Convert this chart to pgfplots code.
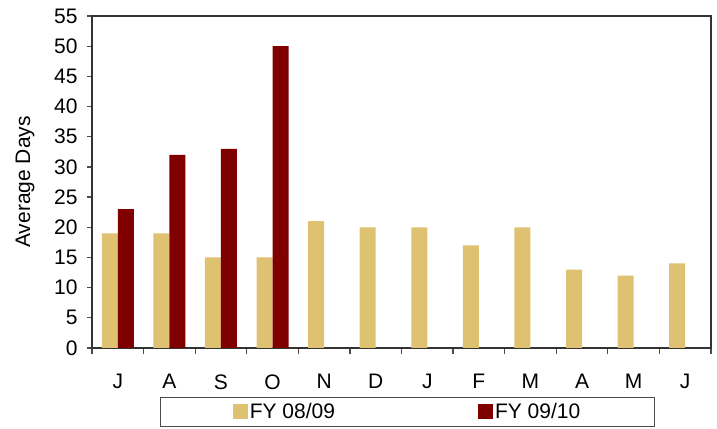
\documentclass[border=0pt]{standalone}
\usepackage{pgfplots}
\pgfplotsset{compat=1.18}
\usepackage{fontspec}
\setmainfont{Liberation Sans}
\definecolor{tanc}{RGB}{222,194,114}
\definecolor{dred}{RGB}{128,0,0}
\newcommand{\cf}{\fontsize{21bp}{25bp}\selectfont}
\begin{document}
\begin{tikzpicture}
\path[use as bounding box] (0,0) rectangle (717bp,429bp);
\begin{axis}[
  at={(92bp,81bp)}, anchor=south west,
  scale only axis, width=619bp, height=332bp,
  ybar=0pt, bar width=16bp,
  xmin=-0.5, xmax=11.5, ymin=0, ymax=55,
  ytick={0,5,...,55},
  xtick={0,...,11}, xticklabels={J,A,S,O,N,D,J,F,M,A,M,J},
  minor xtick={-0.5,0.5,...,11.5},
  major x tick style={draw=none},
  minor tick length=6bp, major tick length=5bp,
  tick align=outside, tick pos=left,
  tick style={black!70, line width=1.2pt},
  axis line style={draw=black!80, line width=1.2pt},
  /pgf/number format/assume math mode=true,
  tick label style={font=\cf},
  xticklabel style={yshift=-18bp},
  yticklabel style={xshift=-6bp},
  every axis y label/.style={at={(rel axis cs:0,0.5)}, xshift=-67bp, rotate=90, anchor=center, font=\cf},
  ylabel={Average Days},
  legend columns=2,
  legend cell align=left,
  legend style={at={(rel axis cs:0.5097,-0.1476)}, anchor=north,
    draw=black!70, line width=1pt, font=\cf,
    inner xsep=72bp, inner ysep=4bp,
    /tikz/every even column/.append style={column sep=141bp}},
  every axis plot post/.append style={legend image code/.code={\fill[##1] (0bp,-7.5bp) rectangle (15bp,7.5bp);}},
]
\addplot[fill=tanc, draw=none] coordinates {(0,19) (1,19) (2,15) (3,15) (4,21) (5,20) (6,20) (7,17) (8,20) (9,13) (10,12) (11,14)};
\addplot[fill=dred, draw=none] coordinates {(0,23) (1,32) (2,33) (3,50)};
\legend{FY 08/09, FY 09/10}
\end{axis}
\end{tikzpicture}
\end{document}
